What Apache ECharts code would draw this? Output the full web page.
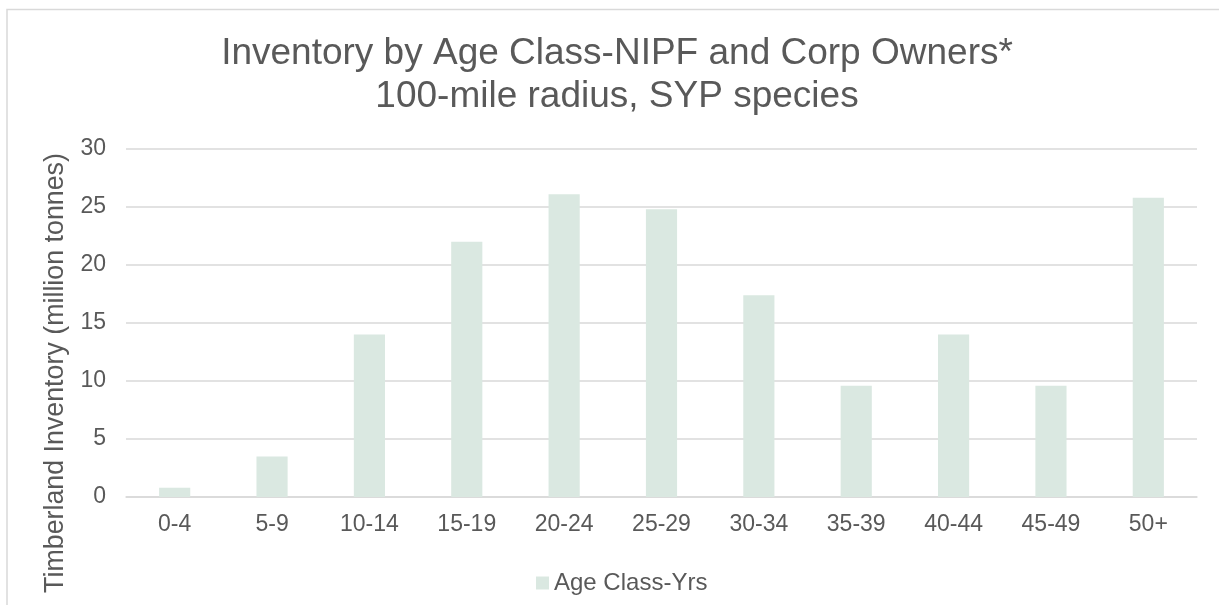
<!DOCTYPE html>
<html>
<head>
<meta charset="utf-8">
<script src="https://cdn.jsdelivr.net/npm/echarts@6/dist/echarts.min.js"></script>
<style>
  html, body { margin: 0; padding: 0; background: #fff; }
  #chart { width: 1219px; height: 605px; }
</style>
</head>
<body>
<div id="chart"></div>
<script>
// age classes (years)
const ageClasses = ['0-4', '5-9', '10-14', '15-19', '20-24', '25-29', '30-34', '35-39', '40-44', '45-49', '50+']
// timberland inventory, million tonnes
const inventory = [0.8, 3.5, 14.0, 22.0, 26.1, 24.8, 17.4, 9.6, 14.0, 9.6, 25.8]
const seriesName = 'Age Class-Yrs'

const font = 'Liberation Sans, Arial, sans-serif'
const textColor = '#595959'

const chart = echarts.init(document.getElementById('chart'))

const option = {
  animation: false,
  backgroundColor: '#fff',
  textStyle: { fontFamily: font },
  // outer chart border
  graphic: [{
    type: 'rect',
    shape: { x: 7, y: 9.5, width: 1400, height: 800 },
    style: { fill: 'none', stroke: '#D9D9D9', lineWidth: 1.5 },
    silent: true
  }],
  title: {
    text: 'Inventory by Age Class-NIPF and Corp Owners*\n100-mile radius, SYP species',
    left: 612,
    textAlign: 'center',
    top: 27,
    textStyle: {
      fontFamily: font,
      fontSize: 37,
      fontWeight: 'normal',
      color: textColor,
      lineHeight: 43
    }
  },
  legend: {
    left: 531,
    top: 566,
    itemWidth: 13,
    itemHeight: 13,
    icon: 'rect',
    data: [seriesName],
    textStyle: { fontFamily: font, fontSize: 24, color: textColor }
  },
  grid: {
    left: 126,
    right: 22,
    top: 149,
    bottom: 108,
    containLabel: false
  },
  xAxis: {
    type: 'category',
    data: ageClasses,
    axisLine: { lineStyle: { color: '#D9D9D9', width: 1.5 } },
    axisTick: { show: false },
    axisLabel: { fontFamily: font, fontSize: 23, color: textColor, margin: 16, interval: 0 }
  },
  yAxis: {
    type: 'value',
    min: 0,
    max: 30,
    interval: 5,
    name: 'Timberland Inventory (million tonnes)',
    nameLocation: 'middle',
    nameGap: 57,
    nameRotate: 90,
    nameTextStyle: { fontFamily: font, fontSize: 26.8, color: textColor, padding: [0, 100, 0, 0] },
    axisLine: { show: false },
    axisTick: { show: false },
    axisLabel: { fontFamily: font, fontSize: 23, color: textColor, margin: 20 },
    splitLine: { lineStyle: { color: '#D9D9D9', width: 1.5 } }
  },
  series: [{
    name: seriesName,
    type: 'bar',
    data: inventory,
    barWidth: '32%',
    itemStyle: { color: '#DAE8E1' }
  }]
}

chart.setOption(option)
</script>
</body>
</html>
